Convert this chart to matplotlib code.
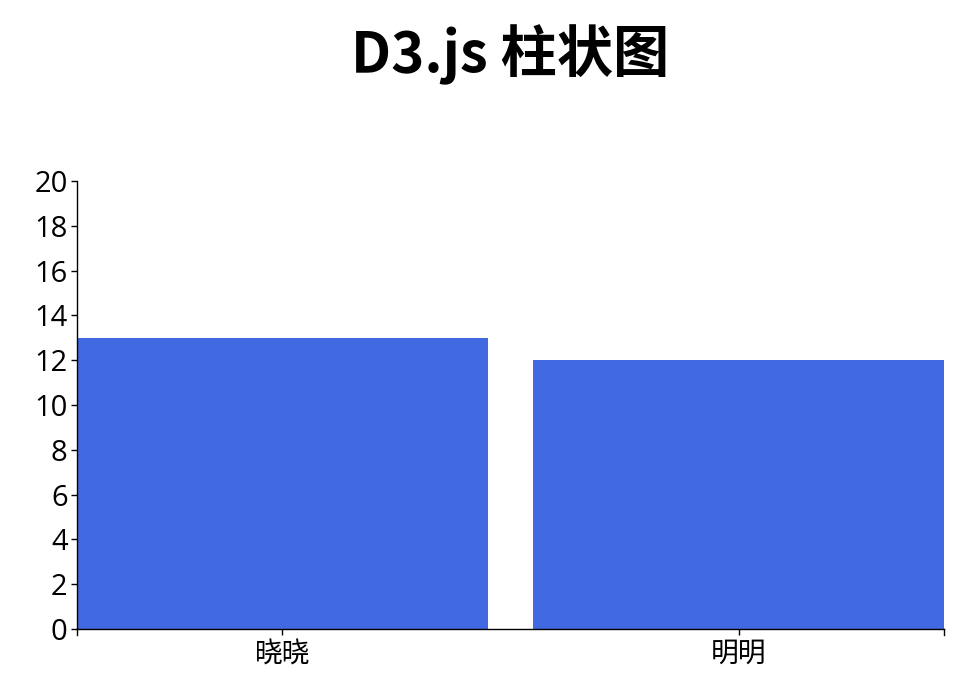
import matplotlib
matplotlib.use("Agg")
import matplotlib.pyplot as plt

plt.rcParams['font.family'] = ['Noto Sans CJK SC', 'DejaVu Sans']

names = ['晓晓', '明明']
values = [13, 12]
y_ticks = list(range(0, 21, 2))

W, H = 976, 686
fig = plt.figure(figsize=(W / 100, H / 100), dpi=100)
# plot area in pixels: left 77, right 944, top 181, bottom 629
ax = fig.add_axes([77 / W, (H - 629) / H, 867 / W, 448 / H])

pad = 0.1  # band padding between bars
x = list(range(len(names)))
ax.bar(x, values, width=1 - pad, color='#4169E1', align='center')
ax.set_xlim(-0.5 + pad / 2, len(names) - 0.5 - pad / 2)
ax.set_ylim(0, 20)

ax.set_yticks(y_ticks)
ax.set_xticks(x)
ax.set_xticklabels(names)

for s in ['top', 'right']:
    ax.spines[s].set_visible(False)
for s in ['left', 'bottom']:
    ax.spines[s].set_linewidth(1.0)
    ax.spines[s].set_color('black')

ax.tick_params(axis='both', length=4.3, width=1.0, color='black')
ax.tick_params(axis='x', labelsize=20, pad=3)
ax.tick_params(axis='y', labelsize=21, pad=2.5)
for lab in ax.get_yticklabels():
    lab.set_family(['Open Sans', 'DejaVu Sans'])

# outer ticks at both ends of the x axis, like d3's axisBottom
for xe in ax.get_xlim():
    ax.plot([xe, xe], [0, -6 / 448], color='black', lw=1.0, clip_on=False,
            transform=ax.get_xaxis_transform())

fig.text(510 / W, 1 - 55 / H, 'D3.js 柱状图', ha='center', va='center',
         fontsize=40.5, fontweight='bold')

fig.savefig('out.png', dpi=100)
